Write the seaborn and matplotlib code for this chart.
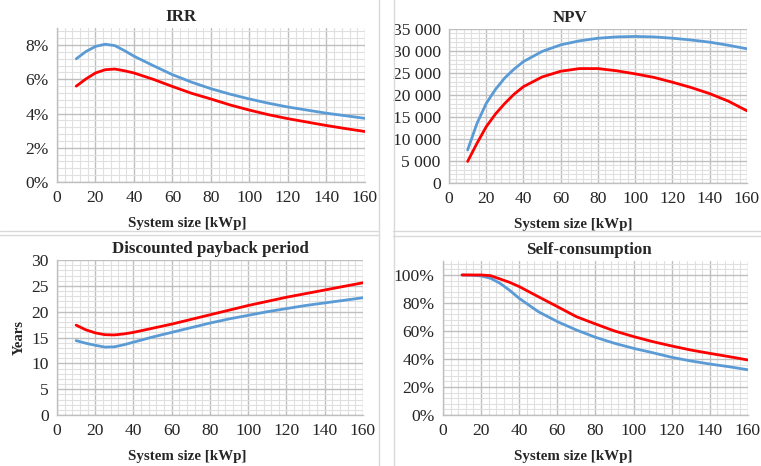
import numpy as np
import pandas as pd
import seaborn as sns
import matplotlib.pyplot as plt
from matplotlib.ticker import MultipleLocator, FuncFormatter
from matplotlib.lines import Line2D

# data (system size in kWp)
size = [10, 15, 20, 25, 30, 35, 40, 50, 60, 70, 80, 90, 100, 110, 120, 130, 140, 150, 160]

irr_blue = [7.2, 7.62, 7.92, 8.05, 7.97, 7.68, 7.35, 6.8, 6.27, 5.83, 5.45, 5.13, 4.85, 4.6, 4.38, 4.2, 4.02, 3.87, 3.72]
irr_red = [5.6, 6.02, 6.37, 6.56, 6.6, 6.5, 6.37, 6.0, 5.58, 5.18, 4.85, 4.5, 4.2, 3.93, 3.7, 3.5, 3.3, 3.12, 2.95]

npv_blue = [7500, 13500, 18100, 21300, 23900, 25900, 27600, 29900, 31400, 32300, 32900, 33200, 33300, 33200, 32900, 32500, 32000, 31300, 30500]
npv_red = [4900, 9000, 12800, 15700, 18100, 20200, 21900, 24100, 25400, 26000, 26000, 25500, 24800, 24000, 22900, 21700, 20300, 18600, 16400]

pay_blue = [14.4, 13.9, 13.5, 13.15, 13.2, 13.6, 14.1, 15.1, 16.0, 16.9, 17.8, 18.6, 19.3, 20.0, 20.6, 21.2, 21.7, 22.2, 22.7]
pay_red = [17.4, 16.5, 15.9, 15.55, 15.5, 15.7, 16.0, 16.8, 17.6, 18.5, 19.4, 20.3, 21.2, 22.0, 22.8, 23.5, 24.2, 24.9, 25.6]

self_blue = [100, 99.8, 99.3, 97.6, 94.0, 89.0, 83.3, 73.8, 66.7, 60.7, 55.5, 51.2, 47.6, 44.5, 41.2, 38.6, 36.4, 34.5, 32.3]
self_red = [100, 100, 100, 99.5, 97.1, 94.7, 91.7, 84.5, 77.4, 70.2, 65.0, 60.0, 56.0, 52.4, 49.3, 46.4, 44.0, 41.7, 39.3]

BLUE = '#5B9BD5'
RED = '#FF0000'

sns.set_style("white")
plt.rcParams['font.family'] = ['Liberation Serif', 'DejaVu Serif']

fig = plt.figure(figsize=(7.61, 4.66), dpi=100)

def make_ax(rect, title, blue, red, ymax, ymaj, ymin, fmt, ylabel=None, xlab_x=0.42, title_x=0.5):
    ax = fig.add_axes(rect)
    df = pd.DataFrame({'size': size + size, 'val': blue + red,
                       'series': ['a'] * len(size) + ['b'] * len(size)})
    sns.lineplot(data=df, x='size', y='val', hue='series', palette=[BLUE, RED],
                 linewidth=2.0, legend=False, ax=ax, zorder=3)
    for ln in ax.get_lines():
        ln.set_solid_joinstyle('round')
        ln.set_solid_capstyle('round')
    ax.set_xlim(0, 160)
    ax.set_ylim(0, ymax)
    ax.xaxis.set_major_locator(MultipleLocator(20))
    ax.xaxis.set_minor_locator(MultipleLocator(4))
    ax.yaxis.set_major_locator(MultipleLocator(ymaj))
    ax.yaxis.set_minor_locator(MultipleLocator(ymin))
    ax.yaxis.set_major_formatter(FuncFormatter(fmt))
    ax.grid(which='major', color='#BFBFBF', linewidth=1.0, zorder=0)
    ax.grid(which='minor', color='#E0E0E0', linewidth=0.8, zorder=0)
    ax.set_axisbelow(True)
    for s in ['top', 'right']:
        ax.spines[s].set_visible(False)
    for s in ['left', 'bottom']:
        ax.spines[s].set_color('#BFBFBF')
        ax.spines[s].set_linewidth(1.0)
    ax.tick_params(which='major', direction='out', length=4, width=1.0, color='#BFBFBF',
                   labelsize=12.6, pad=2)
    ax.tick_params(which='minor', length=0)
    t = ax.set_title(title, fontsize=12.2, fontweight='bold', pad=5)
    t.set_x(title_x)
    ax.set_xlabel('System size [kWp]', fontsize=10.8, fontweight='bold', labelpad=8)
    # excel centres the axis title on the chart area, not the plot area
    ax.xaxis.label.set_x(xlab_x)
    if ylabel:
        ax.set_ylabel(ylabel, fontsize=10.5, fontweight='bold', labelpad=4)
    else:
        ax.set_ylabel('')
    return ax

pct = lambda v, p: '%d%%' % round(v)
thousands = lambda v, p: '{:,.0f}'.format(v).replace(',', ' ')
plain = lambda v, p: '%d' % round(v)

make_ax([0.0749, 0.6094, 0.4047, 0.3306], 'IRR', irr_blue, irr_red, 9, 2, 0.4, pct,
        xlab_x=0.422, title_x=0.403)
make_ax([0.590, 0.6073, 0.3916, 0.3305], 'NPV', npv_blue, npv_red, 35000, 5000, 1000, thousands,
        xlab_x=0.416, title_x=0.406)
make_ax([0.0749, 0.1094, 0.4021, 0.3326], 'Discounted payback period', pay_blue, pay_red, 30, 5, 1, plain,
        ylabel='Years', xlab_x=0.425, title_x=0.503)
make_ax([0.5821, 0.1094, 0.4008, 0.3306], 'Self-consumption', self_blue, self_red, 110, 20, 4, pct,
        xlab_x=0.426, title_x=0.479)

# light chart-area borders like the source
border = '#D9D9D9'
for x0, x1, y in [(0.0, 0.497, 1 - 231 / 466), (0.516, 1.0, 1 - 231 / 466),
                  (0.0, 0.497, 1 - 235 / 466), (0.516, 1.0, 1 - 236 / 466)]:
    fig.add_artist(Line2D([x0, x1], [y, y], color=border, linewidth=1.0))
for x in [379 / 761, 394 / 761]:
    fig.add_artist(Line2D([x, x], [0.0, 1.0], color=border, linewidth=1.0))

fig.savefig('out.png', dpi=100)
